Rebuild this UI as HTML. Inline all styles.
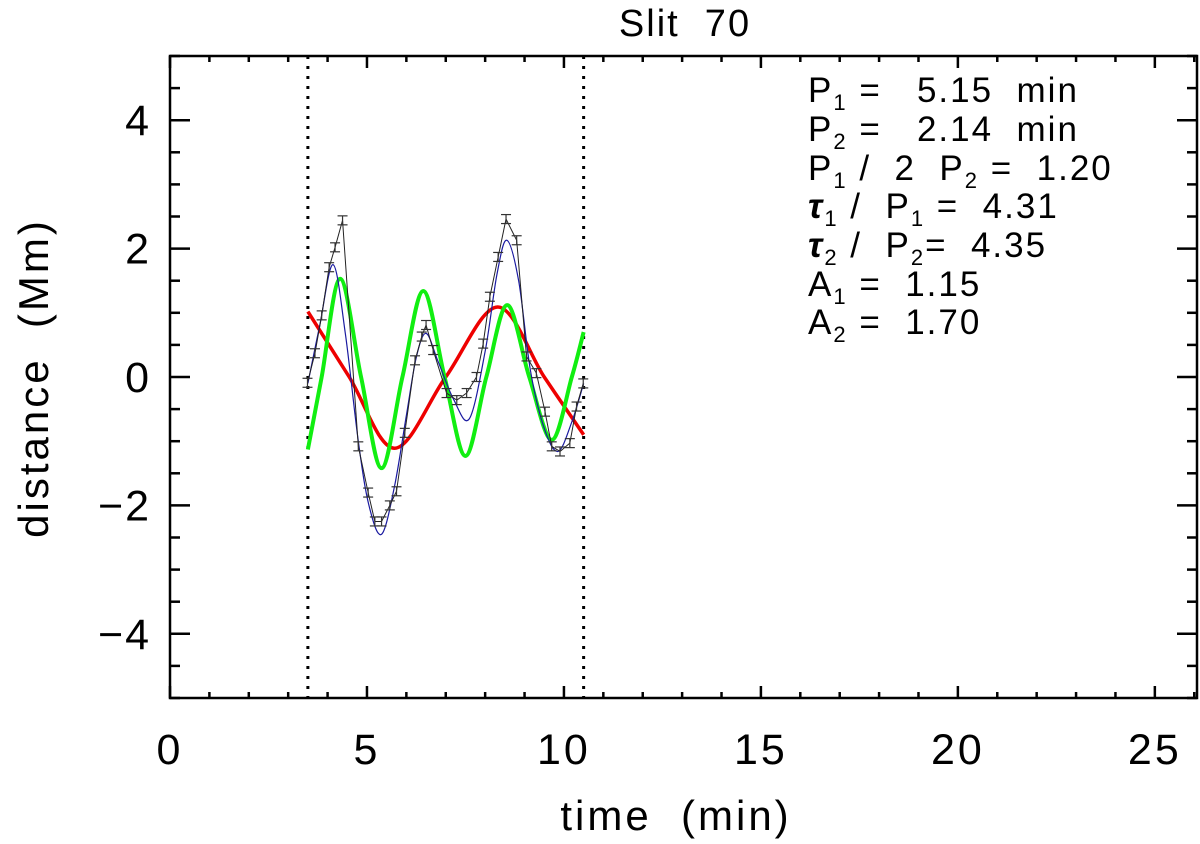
<!DOCTYPE html>
<html><head><meta charset="utf-8"><style>
html,body{margin:0;padding:0;background:#fff;}
svg{display:block;font-family:"Liberation Sans","DejaVu Sans",sans-serif;}
svg text{white-space:pre;}
</style></head><body>
<svg id="chart" width="1200" height="844" viewBox="0 0 1200 844" xmlns="http://www.w3.org/2000/svg">
<text x="685" y="36" font-size="38" letter-spacing="2" text-anchor="middle">Slit  70</text>
<g id="axes"></g>
<g id="marks"></g>
<text x="676" y="830" font-size="42" letter-spacing="3" text-anchor="middle">time  (min)</text>
<text transform="translate(48,378) rotate(-90)" font-size="42" letter-spacing="3" text-anchor="middle">distance  (Mm)</text>
<g font-size="35" letter-spacing="2">
<text x="808" y="102">P<tspan font-size="22" dy="8">1</tspan><tspan dy="-8"> =   5.15  min</tspan></text>
<text x="808" y="141">P<tspan font-size="22" dy="8">2</tspan><tspan dy="-8"> =   2.14  min</tspan></text>
<text x="808" y="180">P<tspan font-size="22" dy="8">1</tspan><tspan dy="-8"> /  2  P</tspan><tspan font-size="22" dy="8">2</tspan><tspan dy="-8"> =  1.20</tspan></text>
<text x="808" y="218"><tspan font-style="italic" font-weight="bold">τ</tspan><tspan font-size="22" dy="8">1</tspan><tspan dy="-8"> /  P</tspan><tspan font-size="22" dy="8">1</tspan><tspan dy="-8"> =  4.31</tspan></text>
<text x="808" y="257"><tspan font-style="italic" font-weight="bold">τ</tspan><tspan font-size="22" dy="8">2</tspan><tspan dy="-8"> /  P</tspan><tspan font-size="22" dy="8">2</tspan><tspan dy="-8">=  4.35</tspan></text>
<text x="808" y="296">A<tspan font-size="22" dy="8">1</tspan><tspan dy="-8"> =  1.15</tspan></text>
<text x="808" y="334">A<tspan font-size="22" dy="8">2</tspan><tspan dy="-8"> =  1.70</tspan></text>
</g>
</svg>
<script>
const xTicks = [0,5,10,15,20,25];
const yTicks = [-4,-2,0,2,4];
const windowBounds = [3.5,10.5];
const dataT = [3.49,3.68,3.85,4.04,4.19,4.38,4.78,5.03,5.2,5.37,5.58,5.75,5.96,6.22,6.39,6.5,6.68,7.02,7.28,7.53,7.78,7.95,8.12,8.33,8.53,8.8,9.05,9.3,9.52,9.69,9.9,10.15,10.32,10.49];
const dataV = [-0.09,0.37,0.96,1.71,2.02,2.44,-1.08,-1.8,-2.25,-2.25,-2.0,-1.78,-0.87,0.26,0.63,0.81,0.42,-0.25,-0.36,-0.25,0.0,0.52,1.25,1.87,2.46,2.13,0.32,0.06,-0.54,-1.08,-1.16,-1.03,-0.46,-0.1];
const dataErr = 0.07;
const fitT = [3.5,3.8,4.14,4.45,4.78,5.05,5.37,5.7,6.0,6.25,6.5,6.8,7.2,7.6,8.0,8.3,8.55,8.85,9.15,9.5,9.85,10.2,10.5];
const fitV = [-0.1,0.8,1.75,0.68,-1.0,-2.0,-2.45,-1.7,-0.6,0.3,0.68,0.25,-0.35,-0.65,0.4,1.6,2.13,1.5,0.1,-0.8,-1.16,-0.7,-0.1];
const greenT = [3.5,3.85,4.32,4.85,5.37,5.9,6.43,6.97,7.5,8.03,8.56,9.12,9.69,10.2,10.5];
const greenV = [-1.13,0,1.53,0,-1.42,0,1.34,0,-1.23,0,1.12,0,-0.98,0,0.70];
const redT = [3.5,4.55,5.7,7.0,8.32,9.5,10.5];
const redV = [1.02,0,-1.11,0,1.09,0,-0.9];

const L=170,R=1197,T=56,B=698,XMAX=26.07;
const sx=t=>L+(t/XMAX)*(R-L);
const sy=v=>377-v*64.2;
const NS="http://www.w3.org/2000/svg";
function mk(tag,attrs,parent){const e=document.createElementNS(NS,tag);for(const k in attrs)e.setAttribute(k,attrs[k]);parent.appendChild(e);return e;}
const axes=document.getElementById('axes'), marks=document.getElementById('marks');
let frame=mk('rect',{x:L,y:T,width:R-L,height:B-T,fill:'none',stroke:'#000','stroke-width':2.5},axes);


for(let t=0;t<=XMAX;t+=1){const maj=t%5===0;const len=maj?12:6;
 mk('line',{x1:sx(t),x2:sx(t),y1:B,y2:B-len,stroke:'#000','stroke-width':2.5},axes);
 mk('line',{x1:sx(t),x2:sx(t),y1:T,y2:T+len,stroke:'#000','stroke-width':2.5},axes);}
for(let v=-5;v<=5.001;v+=0.5){const maj=Math.abs(v%2)<1e-6;const len=maj?20:10;
 mk('line',{x1:L,x2:L+len,y1:sy(v),y2:sy(v),stroke:'#000','stroke-width':2.5},axes);
 mk('line',{x1:R,x2:R-len,y1:sy(v),y2:sy(v),stroke:'#000','stroke-width':2.5},axes);}
xTicks.forEach(t=>{const e=mk('text',{x:sx(t),y:764,'font-size':43,'letter-spacing':3,'text-anchor':'middle'},axes);e.textContent=t;
 
 });
yTicks.forEach(v=>{const e=mk('text',{x:151,y:sy(v)+15,'font-size':43,'letter-spacing':2,'text-anchor':'end'},axes);e.textContent=v<0?'\u2212'+Math.abs(v):v;
 
 });
windowBounds.forEach(t=>{const e=mk('line',{x1:sx(t),x2:sx(t),y1:T,y2:B,stroke:'#000','stroke-width':3,'stroke-dasharray':'3 7'},marks);
 
 });
function smooth(ts,vs){const p=ts.map((t,i)=>[sx(t),sy(vs[i])]);let d='M'+p[0][0]+','+p[0][1];
 for(let i=0;i<p.length-1;i++){const p0=p[Math.max(0,i-1)],p1=p[i],p2=p[i+1],p3=p[Math.min(p.length-1,i+2)];
  d+=' C'+(p1[0]+(p2[0]-p0[0])/6)+','+(p1[1]+(p2[1]-p0[1])/6)+' '+(p2[0]-(p3[0]-p1[0])/6)+','+(p2[1]-(p3[1]-p1[1])/6)+' '+p2[0]+','+p2[1];}
 return d;}
let red=mk('path',{d:smooth(redT,redV),fill:'none',stroke:'#ee0000','stroke-width':3.5},marks);


let green=mk('path',{d:smooth(greenT,greenV),fill:'none',stroke:'#11ee11','stroke-width':4},marks);


let blue=mk('path',{d:smooth(fitT,fitV),fill:'none',stroke:'#1a1aa0','stroke-width':1.2},marks);


let dl=mk('polyline',{points:dataT.map((t,i)=>sx(t)+','+sy(dataV[i])).join(' '),fill:'none',stroke:'#222','stroke-width':1},marks);


dataT.forEach((t,i)=>{const x=sx(t),y1=sy(dataV[i]+dataErr),y2=sy(dataV[i]-dataErr);
 const g=mk('g',{stroke:'#333','stroke-width':1.2},marks);
 
 
 mk('line',{x1:x,x2:x,y1:y1,y2:y2},g);
 mk('line',{x1:x-5,x2:x+5,y1:y1,y2:y1},g);
 mk('line',{x1:x-5,x2:x+5,y1:y2,y2:y2},g);});
</script>
</body></html>
